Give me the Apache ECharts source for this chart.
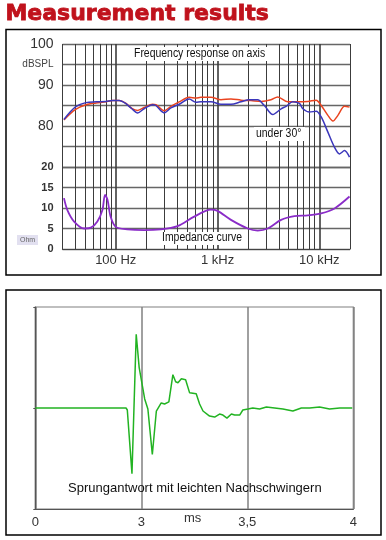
<!DOCTYPE html>
<html><head><meta charset="utf-8">
<script src="https://cdn.jsdelivr.net/npm/echarts@6/dist/echarts.min.js"></script>
<style>html,body{margin:0;padding:0;background:#fff}#c{width:386px;height:540px}</style>
</head><body><div id="c"></div>
<script>
// Frequency response on axis (red)
const freqOnAxisHz = [31,40,51,64,80,93,108,125,144,164,190,230,248,299,348,420,527,613,687,861,1080,1355,1700,2130,2675,3350,3900,4900,6140,7710,9310,10430,12130,13590,15220,17660,19780];
const splOnAxisDb  = [81.5,84.0,85.2,85.6,85.9,86.2,86.2,85.6,84.3,83.8,84.5,85.3,85.2,83.7,84.8,85.9,87.0,86.8,87.0,87.0,86.4,86.6,86.3,86.2,86.0,86.4,87.1,85.9,85.9,86.0,86.3,85.0,82.6,81.2,82.6,84.8,84.6];
// Frequency response under 30° (blue)
const freq30Hz = [31,40,51,64,80,93,108,125,144,164,190,230,248,299,348,420,527,613,687,861,1080,1355,1700,2050,2480,2880,3490,4210,4710,5480,6370,6880,8000,9310,10430,12130,14100,15780,17660,19780];
const spl30Db  = [81.6,84.6,85.7,85.9,86.0,86.2,86.2,85.5,84.2,83.2,84.2,85.2,85.0,83.2,84.4,85.3,86.6,85.8,85.9,85.9,85.3,85.3,85.9,86.4,86.4,85.0,82.8,84.2,84.8,85.9,85.5,84.2,83.4,83.6,82.2,78.5,74.8,73.2,74.0,72.4];
// Impedance curve (purple)
const impFreqHz = [31,33.5,39,49,57,66,74,78.5,83,89,100,130,190,277,405,590,861,1000,1355,1980,2480,3110,4210,5690,7710,10430,14100,19780];
const impOhm    = [12.4,9.5,6.7,5.0,5.2,6.7,9.5,13.2,12.0,7.9,5.4,4.8,4.6,4.8,5.6,7.9,9.6,9.3,7.1,5.0,4.5,5.0,7.1,8.0,8.2,8.7,9.9,12.8];
// Step response (green)
const stepTimeMs = [2.5,2.928,2.934,2.956,2.976,2.99,3.016,3.031,3.052,3.071,3.094,3.11,3.13,3.149,3.162,3.173,3.189,3.209,3.228,3.259,3.275,3.291,3.322,3.346,3.369,3.385,3.404,3.425,3.44,3.464,3.479,3.503,3.526,3.558,3.59,3.629,3.668,3.715,3.755,3.794,3.841,3.888,3.936,3.995];
const stepValue  = [0,0,-0.02,-0.65,0.73,0.40,0.09,-0.01,-0.46,-0.03,0.05,0.04,0.06,0.33,0.26,0.25,0.29,0.28,0.15,0.14,0.04,-0.03,-0.08,-0.09,-0.06,-0.07,-0.10,-0.06,-0.07,-0.07,-0.02,-0.01,0.0,-0.01,0.01,0.0,-0.01,-0.03,0.0,0.0,0.01,-0.01,0.0,0.0];
// Grid / tick definitions
const gridFreqs = [30,40,50,60,70,80,90,100,200,300,400,500,600,700,800,900,1000,2000,3000,4000,5000,6000,7000,8000,9000,10000,20000];
const decadeFreqs = [100,1000,10000];
const freqLabels = {100:'100 Hz',1000:'1 kHz',10000:'10 kHz'};
const dbLabels = {100:'100',95:'{u|dBSPL}',90:'90',80:'80'};
const ohmLabels = {20:'20',15:'15',10:'10',5:'5',0:'0'};
const timeLabels = {2.5:'0',3:'3',3.5:'3,5',4:'4'};

const zip = (a,b) => a.map((v,i)=>[v,b[i]]);
const vLines = gridFreqs.map(f => ({xAxis: f, lineStyle: {width: decadeFreqs.includes(f) ? 1.6 : 1}}));
const FONT = 'Liberation Sans, Arial, sans-serif';
const F12 = '12px "Liberation Sans", Arial, sans-serif';

const chart = echarts.init(document.getElementById('c'), null, {renderer:'canvas'});
const mlCommon = {silent:true, symbol:'none', animation:false, label:{show:false}, z:1,
  lineStyle:{color:'#3c3c3c', type:'solid', width:1}, data: vLines};

function labelBox(x, y, w, h, text, tx, ty) {
  return {type:'group', x:x, y:y, z:100, zlevel:1, children:[
    {type:'rect', z:100, zlevel:1, shape:{x:0, y:0, width:w, height:h}, style:{fill:'#fff'}},
    {type:'text', z:101, zlevel:1, x:tx, y:ty, scaleX:0.87, style:{text:text, fill:'#111', font:F12}}
  ]};
}

chart.setOption({
  animation:false,
  backgroundColor:'#fff',
  textStyle:{fontFamily:FONT},
  grid:[
    {left:62.5, top:44, width:287.5, height:123},
    {left:62.5, top:167, width:287.5, height:82},
    {left:35.3, top:307, width:318, height:202, show:true, borderColor:'#808080', borderWidth:1.2, backgroundColor:'transparent'}
  ],
  xAxis:[
    {type:'log', logBase:10, min:30, max:20000, gridIndex:0, axisLine:{show:false}, axisTick:{show:false}, axisLabel:{show:false}, splitLine:{show:false}},
    {type:'log', logBase:10, min:30, max:20000, gridIndex:1, axisLine:{show:true, lineStyle:{color:'#444', width:1.2}}, axisTick:{show:false}, splitLine:{show:false},
      axisLabel:{show:true, showMinLabel:false, showMaxLabel:false, margin:5, fontSize:13, color:'#333', fontFamily:FONT,
        formatter:v => freqLabels[Math.round(v)] || ''}},
    {type:'value', min:2.5, max:4, interval:0.5, gridIndex:2,
      axisLine:{show:true, onZero:false, lineStyle:{color:'#555', width:1.2}}, axisTick:{show:false},
      splitLine:{show:true, lineStyle:{color:'#808080', width:1.5}},
      axisLabel:{margin:7, fontSize:13, color:'#333', fontFamily:FONT, formatter:v => timeLabels[Math.round(v*10)/10] ?? ''}}
  ],
  yAxis:[
    {type:'value', min:70, max:100, interval:5, gridIndex:0, axisLine:{show:false}, axisTick:{show:false},
      splitLine:{show:true, lineStyle:{color:'#666', width:1.3}},
      axisLabel:{margin:9, fontSize:14, color:'#333', fontFamily:FONT, formatter:v => dbLabels[v] || '',
        rich:{u:{fontSize:10, color:'#444', fontFamily:FONT}}}},
    {type:'value', min:0, max:20, interval:5, gridIndex:1, axisLine:{show:false}, axisTick:{show:false},
      splitLine:{show:true, lineStyle:{color:'#666', width:1.3}},
      axisLabel:{margin:9, fontSize:11, fontWeight:'bold', color:'#333', fontFamily:FONT, formatter:v => ohmLabels[v] ?? ''}},
    {type:'value', min:-1, max:1, interval:1, gridIndex:2, axisLine:{show:true, lineStyle:{color:'#555', width:1.2}},
      axisTick:{show:true, length:2, lineStyle:{color:'#555'}}, axisLabel:{show:false}, splitLine:{show:false}}
  ],
  series:[
    {type:'line', name:'on axis', xAxisIndex:0, yAxisIndex:0, data:zip(freqOnAxisHz, splOnAxisDb), showSymbol:false, smooth:0.3,
      lineStyle:{color:'#ea4420', width:1.5}, z:3, markLine:mlCommon},
    {type:'line', name:'under 30°', xAxisIndex:0, yAxisIndex:0, data:zip(freq30Hz, spl30Db), showSymbol:false, smooth:0.3,
      lineStyle:{color:'#3b37bb', width:1.5}, z:4},
    {type:'line', name:'impedance', xAxisIndex:1, yAxisIndex:1, data:zip(impFreqHz, impOhm), showSymbol:false, smooth:0.3,
      lineStyle:{color:'#8a2cc8', width:1.8}, z:3, markLine:mlCommon},
    {type:'line', name:'step', xAxisIndex:2, yAxisIndex:2, data:zip(stepTimeMs, stepValue), showSymbol:false, smooth:false,
      lineStyle:{color:'#22b322', width:1.5}, z:3}
  ],
  graphic:[
    {type:'text', left:5, top:3, style:{text:'Measurement results', fill:'#c0121c', stroke:'#c0121c', lineWidth:0.8, font:'bold 22px "DejaVu Sans", sans-serif'}},
    {type:'rect', shape:{x:6, y:29.5, width:375, height:245.5}, style:{fill:'none', stroke:'#000', lineWidth:1.5}},
    {type:'rect', shape:{x:6, y:290, width:375, height:245}, style:{fill:'none', stroke:'#000', lineWidth:1.5}},
    labelBox(133, 47, 136, 14, 'Frequency response on axis', 1, 1),
    labelBox(254, 127, 51, 14, 'under 30°', 2, 1),
    labelBox(161, 232, 85, 13, 'Impedance curve', 1, 0),
    {type:'group', x:17, y:235, z:100, zlevel:1, children:[
      {type:'rect', z:100, zlevel:1, shape:{x:0, y:0, width:21, height:10}, style:{fill:'#e2e0f0'}},
      {type:'text', z:101, zlevel:1, x:3, y:2, style:{text:'Ohm', fill:'#666', font:'7px "Liberation Sans", Arial, sans-serif'}}
    ]},
    {type:'text', left:68, top:482, z:10, style:{text:'Sprungantwort mit leichten Nachschwingern', fill:'#111', font:'13px "Liberation Sans", Arial, sans-serif'}},
    {type:'text', left:184, top:512, z:10, style:{text:'ms', fill:'#333', font:'13px "Liberation Sans", Arial, sans-serif'}}
  ]
});
</script></body></html>
